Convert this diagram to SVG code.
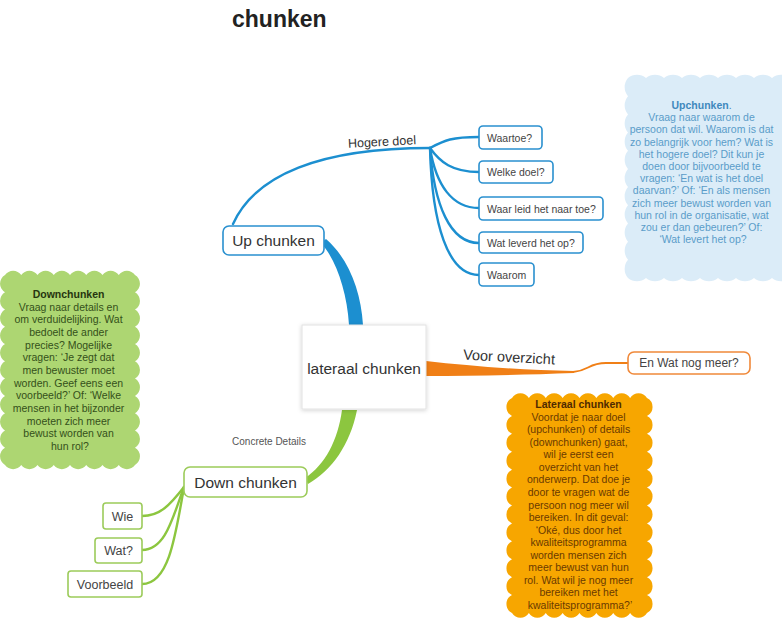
<svg xmlns="http://www.w3.org/2000/svg" width="782" height="619" viewBox="0 0 782 619">
  <defs>
    <filter id="shadow" x="-20%" y="-20%" width="140%" height="140%">
      <feDropShadow dx="0" dy="1" stdDeviation="2" flood-color="#000" flood-opacity="0.18"/>
    </filter>
    <style>
      text { font-family: "Liberation Sans", Arial, sans-serif; }
      .title { font-size: 23px; font-weight: bold; fill: #222; }
      .main { font-size: 15.5px; fill: #333; text-anchor: middle; }
      .leaf { font-size: 10.5px; fill: #444; }
      .leafg { font-size: 12.5px; fill: #444; text-anchor: middle; }
      .lbl { fill: #333; }
      .blueBox { fill: #fff; stroke: #2a90cf; stroke-width: 1.6; }
      .greenBox { fill: #fff; stroke: #9ccb5a; stroke-width: 1.6; }
      .orangeBox { fill: #fff; stroke: #f0893a; stroke-width: 1.6; }
      .blueLine { fill: none; stroke: #1c8fd0; stroke-width: 2.4; stroke-linecap: round; }
      .greenLine { fill: none; stroke: #8cc63f; stroke-width: 2.4; stroke-linecap: round; }
      .orangeLine { fill: none; stroke: #f07f16; stroke-width: 1.8; stroke-linecap: round; }
      .note { font-size: 10.5px; text-anchor: middle; }
      .noteUp { fill: #5a9cc9; }
      .noteUp .h { fill: #3f88bd; font-weight: bold; }
      .noteDown { fill: #34501a; }
      .noteDown .h { fill: #26350f; font-weight: bold; }
      .noteLat { fill: #6a3a00; }
      .noteLat .h { fill: #4f2a00; font-weight: bold; }
    </style>
  </defs>

  <rect width="782" height="619" fill="#fff"/>

  <text class="title" x="232" y="27">chunken</text>

  <!-- connectors -->
  <g id="connectors">
    <!-- main branches (tapered) -->
    <path d="M321,243 C335,258 347,290 349,325 L363,325 C361,290 348,258 326,239 Z" fill="#1c8fd0"/>
    <path d="M342,410 C338,440 325,465 305,478 L308,484 C332,470 350,445 357,410 Z" fill="#8cc63f"/>
    <path d="M426,361 C470,366 520,370 574,371 L574,373 C520,375 470,376 426,376 Z" fill="#f07f16"/>
    <path class="orangeLine" d="M573,372 C589,371 588,363 606,363 L628,363"/>

    <!-- up chunken sub branches -->
    <path class="blueLine" d="M233,224 C255,175 320,148 430,148"/>
    <path class="blueLine" d="M430,148 C445,140 452,137 479,137"/>
    <path class="blueLine" d="M430,148 C440,162 452,172 479,172"/>
    <path class="blueLine" d="M430,148 C436,185 452,208 479,208"/>
    <path class="blueLine" d="M430,148 C434,205 450,243 479,243"/>
    <path class="blueLine" d="M430,148 C432,225 448,275 479,275"/>

    <!-- down chunken sub branches -->
    <path class="greenLine" d="M184,487 C170,505 160,516 142,516"/>
    <path class="greenLine" d="M184,487 C172,520 165,550 142,550"/>
    <path class="greenLine" d="M184,487 C175,540 168,584 142,584"/>

    <!-- branch labels -->
    <text class="lbl" x="382" y="146" font-size="12.5" text-anchor="middle" transform="rotate(-3 382 142)">Hogere doel</text>
    <text class="lbl" x="509" y="362" font-size="14.5" text-anchor="middle" transform="rotate(3 509 358)">Voor overzicht</text>
    <text x="269" y="445" font-size="10" fill="#555" text-anchor="middle">Concrete Details</text>
  </g>

  <!-- central topic -->
  <g id="central">
    <rect x="302" y="325" width="124" height="84" fill="#fff" stroke="#e2e2e2" stroke-width="1" filter="url(#shadow)"/>
    <text class="main" x="364" y="374" font-size="15">lateraal chunken</text>
  </g>

  <g id="up-chunken">
    <rect class="blueBox" x="223" y="226" width="101" height="29" rx="6"/>
    <text class="main" x="273.5" y="246">Up chunken</text>
  </g>

  <g id="down-chunken">
    <rect class="greenBox" x="184" y="467" width="123" height="30" rx="6"/>
    <text class="main" x="245.5" y="488">Down chunken</text>
  </g>

  <g id="en-wat-nog-meer">
    <rect class="orangeBox" x="628" y="352" width="122" height="22" rx="6"/>
    <text x="689" y="367" font-size="12" fill="#444" text-anchor="middle">En Wat nog meer?</text>
  </g>

  <!-- up chunken leaves -->
  <g id="waartoe">
    <rect class="blueBox" x="479" y="126" width="63" height="23" rx="4"/>
    <text class="leaf" x="487" y="141.5">Waartoe?</text>
  </g>
  <g id="welke-doel">
    <rect class="blueBox" x="479" y="161" width="74" height="22" rx="4"/>
    <text class="leaf" x="487" y="176">Welke doel?</text>
  </g>
  <g id="waar-leid">
    <rect class="blueBox" x="479" y="197" width="124" height="23" rx="4"/>
    <text class="leaf" x="487" y="212.5">Waar leid het naar toe?</text>
  </g>
  <g id="wat-leverd">
    <rect class="blueBox" x="479" y="232" width="104" height="21" rx="4"/>
    <text class="leaf" x="487" y="246.5">Wat leverd het op?</text>
  </g>
  <g id="waarom">
    <rect class="blueBox" x="479" y="263" width="55" height="23" rx="4"/>
    <text class="leaf" x="487" y="278.5">Waarom</text>
  </g>

  <!-- down chunken leaves -->
  <g id="wie">
    <rect class="greenBox" x="103" y="503" width="39" height="26" rx="3"/>
    <text class="leafg" x="122.5" y="520.5">Wie</text>
  </g>
  <g id="wat">
    <rect class="greenBox" x="95" y="538" width="47" height="25" rx="3"/>
    <text class="leafg" x="118.5" y="555">Wat?</text>
  </g>
  <g id="voorbeeld">
    <rect class="greenBox" x="68" y="571" width="74" height="26" rx="3"/>
    <text class="leafg" x="105" y="588.5">Voorbeeld</text>
  </g>

  <!-- callout: upchunken -->
  <g id="note-upchunken">
    <path fill="#dbecf8" d="M628,78 a14,14 0 0 1 18,0 a14,14 0 0 1 18,0 a14,14 0 0 1 18,0 a14,14 0 0 1 18,0 a14,14 0 0 1 18,0 a14,14 0 0 1 18,0 a14,14 0 0 1 18,0 a14,14 0 0 1 18,0 a14,14 0 0 1 18,0 L790,278 a14,14 0 0 1 -18,0 a14,14 0 0 1 -18,0 a14,14 0 0 1 -18,0 a14,14 0 0 1 -18,0 a14,14 0 0 1 -18,0 a14,14 0 0 1 -18,0 a14,14 0 0 1 -18,0 a14,14 0 0 1 -18,0 a14,14 0 0 1 -18,0 a14,14 0 0 1 0,-18.18 a14,14 0 0 1 0,-18.18 a14,14 0 0 1 0,-18.18 a14,14 0 0 1 0,-18.18 a14,14 0 0 1 0,-18.18 a14,14 0 0 1 0,-18.18 a14,14 0 0 1 0,-18.18 a14,14 0 0 1 0,-18.18 a14,14 0 0 1 0,-18.18 a14,14 0 0 1 0,-18.18 a14,14 0 0 1 0,-18.18 Z"/>
    <text class="note noteUp">
      <tspan class="h" x="703" y="109">Upchunken<tspan font-weight="normal">.</tspan></tspan>
      <tspan x="703" y="121.2">Vraag naar waarom de</tspan>
      <tspan x="703" y="133.4">persoon dat wil. Waarom is dat</tspan>
      <tspan x="703" y="145.6">zo belangrijk voor hem? Wat is</tspan>
      <tspan x="703" y="157.8">het hogere doel? Dit kun je</tspan>
      <tspan x="703" y="170">doen door bijvoorbeeld te</tspan>
      <tspan x="703" y="182.2">vragen: ‘En wat is het doel</tspan>
      <tspan x="703" y="194.4">daarvan?’ Of: ‘En als mensen</tspan>
      <tspan x="703" y="206.6">zich meer bewust worden van</tspan>
      <tspan x="703" y="218.8">hun rol in de organisatie, wat</tspan>
      <tspan x="703" y="231">zou er dan gebeuren?’ Of:</tspan>
      <tspan x="703" y="243.2">‘Wat levert het op?</tspan>
    </text>
  </g>

  <!-- callout: downchunken -->
  <g id="note-downchunken">
    <path fill="#add672" d="M5,275 a10,10 0 0 1 16.25,0 a10,10 0 0 1 16.25,0 a10,10 0 0 1 16.25,0 a10,10 0 0 1 16.25,0 a10,10 0 0 1 16.25,0 a10,10 0 0 1 16.25,0 a10,10 0 0 1 16.25,0 a10,10 0 0 1 16.25,0 a10,10 0 0 1 0,17.27 a10,10 0 0 1 0,17.27 a10,10 0 0 1 0,17.27 a10,10 0 0 1 0,17.27 a10,10 0 0 1 0,17.27 a10,10 0 0 1 0,17.27 a10,10 0 0 1 0,17.27 a10,10 0 0 1 0,17.27 a10,10 0 0 1 0,17.27 a10,10 0 0 1 0,17.27 a10,10 0 0 1 0,17.27 a10,10 0 0 1 -16.25,0 a10,10 0 0 1 -16.25,0 a10,10 0 0 1 -16.25,0 a10,10 0 0 1 -16.25,0 a10,10 0 0 1 -16.25,0 a10,10 0 0 1 -16.25,0 a10,10 0 0 1 -16.25,0 a10,10 0 0 1 -16.25,0 a10,10 0 0 1 0,-17.27 a10,10 0 0 1 0,-17.27 a10,10 0 0 1 0,-17.27 a10,10 0 0 1 0,-17.27 a10,10 0 0 1 0,-17.27 a10,10 0 0 1 0,-17.27 a10,10 0 0 1 0,-17.27 a10,10 0 0 1 0,-17.27 a10,10 0 0 1 0,-17.27 a10,10 0 0 1 0,-17.27 a10,10 0 0 1 0,-17.27 Z"/>
    <text class="note noteDown">
      <tspan class="h" x="70" y="298">Downchunken</tspan>
      <tspan x="70" y="310.7">Vraag naar details en</tspan>
      <tspan x="70" y="323.3">om verduidelijking. Wat</tspan>
      <tspan x="70" y="336">bedoelt de ander</tspan>
      <tspan x="70" y="348.7">precies? Mogelijke</tspan>
      <tspan x="70" y="361.3">vragen: ‘Je zegt dat</tspan>
      <tspan x="70" y="374">men bewuster moet</tspan>
      <tspan x="70" y="386.7">worden. Geef eens een</tspan>
      <tspan x="70" y="399.3">voorbeeld?’ Of: ‘Welke</tspan>
      <tspan x="70" y="412">mensen in het bijzonder</tspan>
      <tspan x="70" y="424.7">moeten zich meer</tspan>
      <tspan x="70" y="437.3">bewust worden van</tspan>
      <tspan x="70" y="450">hun rol?</tspan>
    </text>
  </g>

  <!-- callout: lateraal chunken -->
  <g id="note-lateraal">
    <path fill="#f7a600" d="M512,398 a10,10 0 0 1 16.875,0 a10,10 0 0 1 16.875,0 a10,10 0 0 1 16.875,0 a10,10 0 0 1 16.875,0 a10,10 0 0 1 16.875,0 a10,10 0 0 1 16.875,0 a10,10 0 0 1 16.875,0 a10,10 0 0 1 16.875,0 a10,10 0 0 1 0,17.92 a10,10 0 0 1 0,17.92 a10,10 0 0 1 0,17.92 a10,10 0 0 1 0,17.92 a10,10 0 0 1 0,17.92 a10,10 0 0 1 0,17.92 a10,10 0 0 1 0,17.92 a10,10 0 0 1 0,17.92 a10,10 0 0 1 0,17.92 a10,10 0 0 1 0,17.92 a10,10 0 0 1 0,17.92 a10,10 0 0 1 0,17.92 a10,10 0 0 1 -16.875,0 a10,10 0 0 1 -16.875,0 a10,10 0 0 1 -16.875,0 a10,10 0 0 1 -16.875,0 a10,10 0 0 1 -16.875,0 a10,10 0 0 1 -16.875,0 a10,10 0 0 1 -16.875,0 a10,10 0 0 1 -16.875,0 a10,10 0 0 1 0,-17.92 a10,10 0 0 1 0,-17.92 a10,10 0 0 1 0,-17.92 a10,10 0 0 1 0,-17.92 a10,10 0 0 1 0,-17.92 a10,10 0 0 1 0,-17.92 a10,10 0 0 1 0,-17.92 a10,10 0 0 1 0,-17.92 a10,10 0 0 1 0,-17.92 a10,10 0 0 1 0,-17.92 a10,10 0 0 1 0,-17.92 a10,10 0 0 1 0,-17.92 Z"/>
    <text class="note noteLat">
      <tspan class="h" x="580" y="408">Lateraal chunken</tspan>
      <tspan x="580" y="420.6">Voordat je naar doel</tspan>
      <tspan x="580" y="433.1">(upchunken) of details</tspan>
      <tspan x="580" y="445.7">(downchunken) gaat,</tspan>
      <tspan x="580" y="458.3">wil je eerst een</tspan>
      <tspan x="580" y="470.8">overzicht van het</tspan>
      <tspan x="580" y="483.4">onderwerp. Dat doe je</tspan>
      <tspan x="580" y="495.9">door te vragen wat de</tspan>
      <tspan x="580" y="508.5">persoon nog meer wil</tspan>
      <tspan x="580" y="521.1">bereiken. In dit geval:</tspan>
      <tspan x="580" y="533.6">‘Oké, dus door het</tspan>
      <tspan x="580" y="546.2">kwaliteitsprogramma</tspan>
      <tspan x="580" y="558.8">worden mensen zich</tspan>
      <tspan x="580" y="571.3">meer bewust van hun</tspan>
      <tspan x="580" y="583.9">rol. Wat wil je nog meer</tspan>
      <tspan x="580" y="596.4">bereiken met het</tspan>
      <tspan x="580" y="609">kwaliteitsprogramma?’</tspan>
    </text>
  </g>
</svg>
